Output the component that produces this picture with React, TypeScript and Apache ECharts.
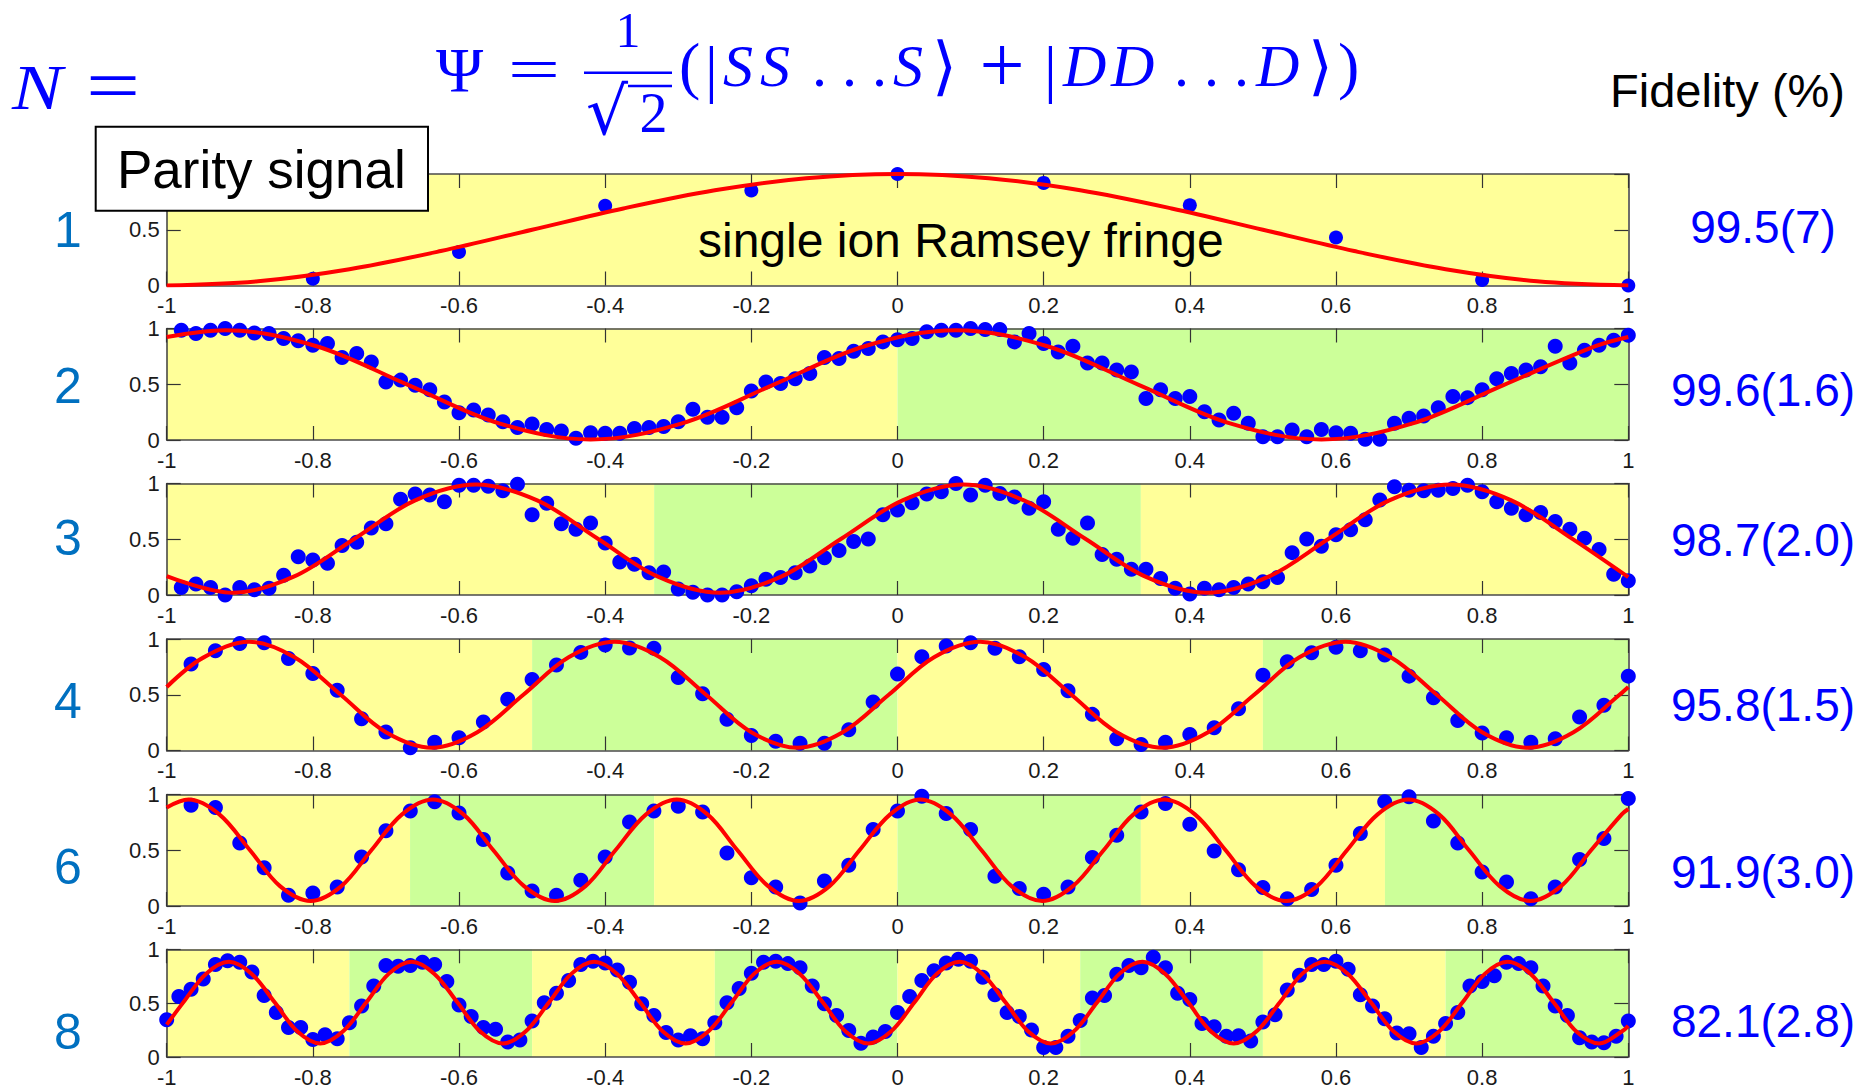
import React, { useEffect, useRef } from 'react';
import * as echarts from 'echarts';

// ---------- data ----------
const X_TICKS = ['-1', '-0.8', '-0.6', '-0.4', '-0.2', '0', '0.2', '0.4', '0.6', '0.8', '1'];
const Y_TICKS = ['0', '0.5', '1'];

const N_LABELS = ['1', '2', '3', '4', '6', '8'];
const FIDELITY = ['99.5(7)', '99.6(1.6)', '98.7(2.0)', '95.8(1.5)', '91.9(3.0)', '82.1(2.8)'];

// band edges (alternating yellow / green, starting yellow)
const EDGES_1 = [-1, 1];
const EDGES_2 = [-1, 0, 1];
const EDGES_3 = [-1, -0.333, 0.333, 1];
const EDGES_4 = [-1, -0.5, 0, 0.5, 1];
const EDGES_6 = [-1, -0.667, -0.333, 0, 0.333, 0.667, 1];
const EDGES_8 = [-1, -0.75, -0.5, -0.25, 0, 0.25, 0.5, 0.75, 1];

// measured points (blue dots)
const DOTS_1_X = [-0.8, -0.6, -0.4, -0.2, 0, 0.2, 0.4, 0.6, 0.8, 1.0];
const DOTS_1_Y = [0.06, 0.30, 0.715, 0.853, 1.0, 0.92, 0.72, 0.43, 0.05, 0.0];

const DOTS_2_Y = [
  0.985, 0.955, 0.985, 1.0, 0.985, 0.96, 0.955, 0.91, 0.89, 0.85,
  0.865, 0.74, 0.776, 0.70, 0.52, 0.537, 0.49, 0.45, 0.34, 0.245,
  0.27, 0.224, 0.164, 0.113, 0.143, 0.095, 0.08, 0.015, 0.065, 0.06,
  0.06, 0.104, 0.113, 0.12, 0.164, 0.275, 0.203, 0.203, 0.29, 0.44,
  0.52, 0.507, 0.55, 0.597, 0.74, 0.73, 0.797, 0.82, 0.88, 0.90,
  0.91, 0.97,
  0.985, 0.985, 1.0, 0.99, 0.99, 0.88, 0.955, 0.865, 0.79, 0.84,
  0.69, 0.69, 0.627, 0.61, 0.373, 0.45, 0.373, 0.39, 0.254, 0.18,
  0.24, 0.15, 0.03, 0.03, 0.09, 0.03, 0.095, 0.066, 0.06, 0.006,
  0.006, 0.15, 0.194, 0.215, 0.29, 0.39, 0.38, 0.45, 0.55, 0.597,
  0.627, 0.657, 0.84, 0.69, 0.806, 0.85, 0.895, 0.94,
];

const DOTS_3_Y = [
  0.068, 0.098, 0.068, 0.0, 0.068, 0.047, 0.06, 0.178, 0.343, 0.314,
  0.284, 0.444, 0.473, 0.60, 0.64, 0.858, 0.905, 0.896, 0.837, 0.985,
  0.985, 0.976, 0.935, 0.994, 0.72, 0.822, 0.64, 0.59, 0.645, 0.467,
  0.296, 0.275, 0.20, 0.207, 0.053, 0.024, 0.0, 0.0, 0.03, 0.083,
  0.142, 0.157, 0.20, 0.26, 0.334, 0.40, 0.48, 0.503, 0.72, 0.763,
  0.828, 0.905,
  0.926, 1.0, 0.896, 0.985, 0.911, 0.88, 0.778, 0.837, 0.59, 0.51,
  0.645, 0.364, 0.32, 0.23, 0.23, 0.148, 0.06, 0.01, 0.06, 0.047,
  0.068, 0.098, 0.118, 0.157, 0.38, 0.503, 0.438, 0.54, 0.586, 0.675,
  0.852, 0.97, 0.94, 0.935, 0.94, 0.956, 0.985, 0.926, 0.837, 0.778,
  0.72, 0.74, 0.66, 0.59, 0.51, 0.408, 0.186, 0.127,
];

const DOTS_4_Y = [
  0.775, 0.895, 0.96, 0.967, 0.826, 0.69, 0.54, 0.285, 0.165, 0.024,
  0.075, 0.114, 0.255, 0.46, 0.637, 0.766, 0.88, 0.946, 0.92, 0.916,
  0.655, 0.51, 0.28, 0.135, 0.084, 0.066, 0.066, 0.186, 0.435, 0.685,
  0.84,
  0.937, 0.967, 0.916, 0.84, 0.727, 0.535, 0.324, 0.105, 0.054, 0.075,
  0.144, 0.204, 0.375, 0.676, 0.796, 0.877, 0.925, 0.895, 0.856, 0.667,
  0.474, 0.27, 0.156, 0.114, 0.075, 0.105, 0.30, 0.405, 0.667,
];

const DOTS_6_Y = [
  0.904, 0.883, 0.566, 0.344, 0.096, 0.117, 0.17, 0.44, 0.674, 0.853,
  0.934, 0.835, 0.596, 0.296, 0.135, 0.096, 0.23, 0.44, 0.754, 0.853,
  0.895, 0.844, 0.476, 0.254, 0.17, 0.027, 0.225, 0.365, 0.686, 0.853,
  0.985,
  0.83, 0.686, 0.266, 0.156, 0.105, 0.17, 0.434, 0.635, 0.844, 0.92,
  0.734, 0.494, 0.326, 0.165, 0.066, 0.147, 0.365, 0.65, 0.934, 0.98,
  0.763, 0.566, 0.305, 0.216, 0.066, 0.17, 0.416, 0.605, 0.964,
];

const DOTS_8_Y = [
  0.346, 0.562, 0.63, 0.725, 0.858, 0.893, 0.879, 0.79, 0.571, 0.414,
  0.275, 0.275, 0.163, 0.207, 0.169, 0.317, 0.473, 0.66, 0.849, 0.843,
  0.849, 0.879, 0.858, 0.70, 0.482, 0.376, 0.275, 0.257, 0.139, 0.157,
  0.334, 0.503, 0.592, 0.71, 0.858, 0.888, 0.873, 0.808, 0.695, 0.494,
  0.385, 0.228, 0.157, 0.198, 0.169, 0.317, 0.503, 0.636, 0.778, 0.879,
  0.888, 0.867, 0.828, 0.66, 0.494, 0.385, 0.246, 0.127, 0.186, 0.237,
  0.414, 0.562, 0.71, 0.80, 0.873, 0.908, 0.888, 0.74, 0.577, 0.414,
  0.376, 0.251, 0.089, 0.089, 0.192, 0.34, 0.547, 0.571, 0.769, 0.849,
  0.828, 0.926, 0.828, 0.592, 0.533, 0.311, 0.281, 0.192, 0.198, 0.148,
  0.325, 0.393, 0.621, 0.76, 0.858, 0.858, 0.888, 0.814, 0.577, 0.473,
  0.355, 0.222, 0.216, 0.089, 0.192, 0.311, 0.414, 0.66, 0.70, 0.754,
  0.879, 0.867, 0.828, 0.66, 0.473, 0.385, 0.178, 0.139, 0.133, 0.192,
  0.334,
];

// fitted curves (red)
const CURVE_1 = [[-1, 0], [-0.875, 0.038], [-0.75, 0.146], [-0.625, 0.309], [-0.5, 0.5], [-0.375, 0.691], [-0.25, 0.854], [-0.125, 0.962], [0, 1], [0.125, 0.962], [0.25, 0.854], [0.375, 0.691], [0.5, 0.5], [0.625, 0.309], [0.75, 0.146], [0.875, 0.038], [1, 0]];
const CURVE_2 = [[-1, 0.924], [-0.92, 0.985], [-0.795, 0.841], [-0.67, 0.495], [-0.545, 0.149], [-0.42, 0.005], [-0.295, 0.149], [-0.17, 0.495], [-0.045, 0.841], [0.08, 0.985], [0.205, 0.841], [0.33, 0.495], [0.455, 0.149], [0.58, 0.005], [0.705, 0.149], [0.83, 0.495], [0.955, 0.841], [1, 0.924]];
const CURVE_3 = [[-1, 0.17], [-0.91, 0.02], [-0.827, 0.162], [-0.743, 0.505], [-0.66, 0.848], [-0.577, 0.99], [-0.493, 0.848], [-0.41, 0.505], [-0.327, 0.162], [-0.243, 0.02], [-0.16, 0.162], [-0.077, 0.505], [0.007, 0.848], [0.09, 0.99], [0.173, 0.848], [0.257, 0.505], [0.34, 0.162], [0.423, 0.02], [0.507, 0.162], [0.59, 0.505], [0.673, 0.848], [0.757, 0.99], [0.84, 0.848], [0.923, 0.505], [1, 0.16]];
const CURVE_4 = [[-1, 0.57], [-0.95, 0.833], [-0.887, 0.975], [-0.825, 0.836], [-0.762, 0.5], [-0.7, 0.164], [-0.637, 0.025], [-0.575, 0.164], [-0.512, 0.5], [-0.45, 0.836], [-0.387, 0.975], [-0.325, 0.836], [-0.262, 0.5], [-0.2, 0.164], [-0.137, 0.025], [-0.075, 0.164], [-0.012, 0.5], [0.05, 0.836], [0.113, 0.975], [0.175, 0.836], [0.238, 0.5], [0.3, 0.164], [0.363, 0.025], [0.425, 0.164], [0.488, 0.5], [0.55, 0.836], [0.613, 0.975], [0.675, 0.836], [0.738, 0.5], [0.8, 0.164], [0.863, 0.025], [0.925, 0.164], [0.988, 0.5], [1, 0.57]];
const CURVE_6 = [[-1, 0.884], [-0.97, 0.955], [-0.928, 0.822], [-0.886, 0.5], [-0.845, 0.178], [-0.803, 0.045], [-0.761, 0.178], [-0.72, 0.5], [-0.678, 0.822], [-0.636, 0.955], [-0.594, 0.822], [-0.553, 0.5], [-0.511, 0.178], [-0.469, 0.045], [-0.427, 0.178], [-0.386, 0.5], [-0.344, 0.822], [-0.302, 0.955], [-0.26, 0.822], [-0.219, 0.5], [-0.177, 0.178], [-0.135, 0.045], [-0.093, 0.178], [-0.052, 0.5], [-0.01, 0.822], [0.031, 0.955], [0.073, 0.822], [0.115, 0.5], [0.156, 0.178], [0.198, 0.045], [0.24, 0.178], [0.282, 0.5], [0.323, 0.822], [0.365, 0.955], [0.407, 0.822], [0.449, 0.5], [0.49, 0.178], [0.532, 0.045], [0.574, 0.178], [0.615, 0.5], [0.657, 0.822], [0.699, 0.955], [0.741, 0.822], [0.782, 0.5], [0.824, 0.178], [0.866, 0.045], [0.908, 0.178], [0.949, 0.5], [0.991, 0.822], [1, 0.87]];
const CURVE_8 = [[-1, 0.30], [-0.9775, 0.505], [-0.946, 0.774], [-0.915, 0.885], [-0.884, 0.774], [-0.852, 0.505], [-0.821, 0.236], [-0.79, 0.125], [-0.759, 0.236], [-0.727, 0.505], [-0.696, 0.774], [-0.665, 0.885], [-0.634, 0.774], [-0.602, 0.505], [-0.571, 0.236], [-0.54, 0.125], [-0.509, 0.236], [-0.477, 0.505], [-0.446, 0.774], [-0.415, 0.885], [-0.384, 0.774], [-0.352, 0.505], [-0.321, 0.236], [-0.29, 0.125], [-0.259, 0.236], [-0.227, 0.505], [-0.196, 0.774], [-0.165, 0.885], [-0.134, 0.774], [-0.102, 0.505], [-0.071, 0.236], [-0.04, 0.125], [-0.009, 0.236], [0.023, 0.505], [0.054, 0.774], [0.085, 0.885], [0.116, 0.774], [0.148, 0.505], [0.179, 0.236], [0.21, 0.125], [0.241, 0.236], [0.273, 0.505], [0.304, 0.774], [0.335, 0.885], [0.366, 0.774], [0.398, 0.505], [0.429, 0.236], [0.46, 0.125], [0.491, 0.236], [0.523, 0.505], [0.554, 0.774], [0.585, 0.885], [0.616, 0.774], [0.648, 0.505], [0.679, 0.236], [0.71, 0.125], [0.741, 0.236], [0.773, 0.505], [0.804, 0.774], [0.835, 0.885], [0.866, 0.774], [0.898, 0.505], [0.929, 0.236], [0.96, 0.125], [0.991, 0.236], [1, 0.29]];

// ---------- layout / style ----------
const GRID_LEFT = 166.7;
const GRID_WIDTH = 1461.6;
const GRID_TOPS = [174, 328.5, 483.5, 639, 794.5, 949.3];
const GRID_H = 111.5;
const N_LABEL_Y = [230, 386, 537.5, 701, 867, 1032];
const FID_Y = [226.7, 390, 540, 705, 872, 1021];
const DOT_SIZES = [14, 15, 15, 15, 15, 15];

const YELLOW = '#FFFF99';
const GREEN = '#CCFF99';
const BLUE = '#0000ff';
const AXIS_COLOR = '#4a4a4a';
const SANS = '"Liberation Sans", Arial, Helvetica, sans-serif';
const SERIF = '"Liberation Serif", "DejaVu Serif", serif';

function gridDots(start: number, step: number, ys: number[]) {
  return ys.map((y, i) => [start + i * step, y]);
}

const PANELS = [
  { dots: DOTS_1_X.map((x, i) => [x, DOTS_1_Y[i]]), curve: CURVE_1, edges: EDGES_1 },
  { dots: gridDots(-0.98, 0.02, DOTS_2_Y), curve: CURVE_2, edges: EDGES_2 },
  { dots: gridDots(-0.98, 0.02, DOTS_3_Y), curve: CURVE_3, edges: EDGES_3 },
  { dots: gridDots(-29 / 30, 1 / 30, DOTS_4_Y), curve: CURVE_4, edges: EDGES_4 },
  { dots: gridDots(-29 / 30, 1 / 30, DOTS_6_Y), curve: CURVE_6, edges: EDGES_6 },
  { dots: gridDots(-1, 1 / 60, DOTS_8_Y), curve: CURVE_8, edges: EDGES_8 },
];

function txt(text: string, x: number, y: number, font: string, fill: string, align = 'left', extra: any = {}) {
  return {
    type: 'text',
    x,
    y,
    z: 20,
    ...extra,
    style: {
      text,
      font,
      fill,
      textAlign: align,
      align,
      textVerticalAlign: 'middle',
      verticalAlign: 'middle',
    },
  };
}

function buildOption() {
  const axisCommon = {
    type: 'value',
    z: 3,
    axisLine: { show: true, onZero: false, lineStyle: { color: AXIS_COLOR, width: 1.6 } },
    axisTick: { show: true, inside: true, length: 14, lineStyle: { color: '#333', width: 1.2 } },
    splitLine: { show: false },
  };
  const xAxis: any[] = [];
  const yAxis: any[] = [];
  PANELS.forEach((_, i) => {
    xAxis.push({
      ...axisCommon,
      gridIndex: i,
      position: 'bottom',
      min: -1,
      max: 1,
      interval: 0.2,
      axisLabel: {
        show: true,
        margin: 9,
        fontSize: 22,
        fontFamily: SANS,
        color: '#1a1a1a',
        formatter: (v: number) => X_TICKS[Math.round((v + 1) / 0.2)] ?? String(v),
      },
    });
    xAxis.push({
      ...axisCommon,
      gridIndex: i,
      position: 'top',
      min: -1,
      max: 1,
      interval: 0.2,
      axisLabel: { show: false },
    });
    yAxis.push({
      ...axisCommon,
      gridIndex: i,
      position: 'left',
      min: 0,
      max: 1,
      interval: 0.5,
      axisLabel: {
        show: true,
        margin: 7,
        fontSize: 22,
        fontFamily: SANS,
        color: '#1a1a1a',
        // the top label of the first panel is hidden behind the "Parity signal" box
        showMaxLabel: i !== 0,
        formatter: (v: number) => Y_TICKS[Math.round(v / 0.5)] ?? String(v),
      },
    });
    yAxis.push({
      ...axisCommon,
      gridIndex: i,
      position: 'right',
      min: 0,
      max: 1,
      interval: 0.5,
      axisLabel: { show: false },
    });
  });

  const series: any[] = [];
  PANELS.forEach((p, i) => {
    const bands: any[] = [];
    for (let k = 0; k < p.edges.length - 1; k++) {
      bands.push([
        { xAxis: p.edges[k], itemStyle: { color: k % 2 === 0 ? YELLOW : GREEN, opacity: 1 } },
        { xAxis: p.edges[k + 1] },
      ]);
    }
    series.push({
      type: 'scatter',
      xAxisIndex: 2 * i,
      yAxisIndex: 2 * i,
      data: p.dots,
      symbol: 'circle',
      symbolSize: DOT_SIZES[i],
      itemStyle: { color: BLUE, opacity: 1 },
      clip: false,
      silent: true,
      z: 4,
      markArea: { silent: true, z: 1, data: bands, label: { show: false } },
    });
    series.push({
      type: 'line',
      xAxisIndex: 2 * i,
      yAxisIndex: 2 * i,
      data: p.curve,
      smooth: 0.35,
      symbol: 'none',
      showSymbol: false,
      silent: true,
      lineStyle: { color: '#ff0000', width: 4 },
      z: 5,
    });
  });

  const graphics: any[] = [];
  // "N ="
  graphics.push(txt('N', 12, 87.5, `italic 63px ${SERIF}`, BLUE, 'left', { scaleX: 1.2 }));
  graphics.push(txt('=', 113, 85, `75px ${SERIF}`, BLUE, 'center', { scaleX: 1.28 }));
  // formula
  graphics.push(txt('Ψ', 436, 70, `64px ${SERIF}`, BLUE, 'left'));
  graphics.push(txt('=', 534, 68.75, `62px ${SERIF}`, BLUE, 'center', { scaleX: 1.5 }));
  graphics.push(txt('1', 628, 30, `50px ${SERIF}`, BLUE, 'center'));
  graphics.push({ type: 'line', z: 20, shape: { x1: 584, y1: 72.7, x2: 672, y2: 72.7 }, style: { stroke: BLUE, lineWidth: 2.5 } });
  graphics.push(txt('√', 586, 111.9, `66px "DejaVu Serif", serif`, BLUE, 'left'));
  graphics.push({ type: 'line', z: 20, shape: { x1: 628, y1: 86, x2: 672, y2: 86 }, style: { stroke: BLUE, lineWidth: 2.5 } });
  graphics.push(txt('2', 653.5, 113.3, `56px ${SERIF}`, BLUE, 'center'));
  graphics.push(txt('(', 679, 65, `64px ${SERIF}`, BLUE, 'left'));
  graphics.push(txt('|', 705, 68, `64px ${SERIF}`, BLUE, 'left'));
  graphics.push(txt('S', 723, 66, `italic 60px ${SERIF}`, BLUE, 'left'));
  graphics.push(txt('S', 760, 66, `italic 60px ${SERIF}`, BLUE, 'left'));
  graphics.push(txt('. . .', 812, 66, `60px ${SERIF}`, BLUE, 'left'));
  graphics.push(txt('S', 893, 66, `italic 60px ${SERIF}`, BLUE, 'left'));
  graphics.push(txt('⟩', 932, 66, `64px "DejaVu Serif", serif`, BLUE, 'left'));
  graphics.push(txt('+', 1002, 64.9, `80px ${SERIF}`, BLUE, 'center'));
  graphics.push(txt('|', 1044, 68, `64px ${SERIF}`, BLUE, 'left'));
  graphics.push(txt('D', 1063, 66, `italic 60px ${SERIF}`, BLUE, 'left'));
  graphics.push(txt('D', 1111, 66, `italic 60px ${SERIF}`, BLUE, 'left'));
  graphics.push(txt('. . .', 1174, 66, `60px ${SERIF}`, BLUE, 'left'));
  graphics.push(txt('D', 1256, 66, `italic 60px ${SERIF}`, BLUE, 'left'));
  graphics.push(txt('⟩', 1308, 66, `64px "DejaVu Serif", serif`, BLUE, 'left'));
  graphics.push(txt(')', 1338, 65, `64px ${SERIF}`, BLUE, 'left'));

  graphics.push(txt('Fidelity (%)', 1610, 90.8, `47px ${SANS}`, '#000', 'left'));

  // Parity signal box
  graphics.push({
    type: 'rect',
    z: 20,
    shape: { x: 95.7, y: 126.7, width: 332.3, height: 84 },
    style: { fill: '#fff', stroke: '#000', lineWidth: 2 },
  });
  graphics.push(txt('Parity signal', 117, 169.7, `53px ${SANS}`, '#000', 'left', { z: 21 }));
  graphics.push(txt('single ion Ramsey fringe', 698, 240.8, `48px ${SANS}`, '#000', 'left'));

  N_LABELS.forEach((n, i) => {
    graphics.push(txt(n, 68, N_LABEL_Y[i], `50px ${SANS}`, '#0070c0', 'center'));
  });
  FIDELITY.forEach((f, i) => {
    graphics.push(txt(f, 1763, FID_Y[i], `46px ${SANS}`, BLUE, 'center'));
  });

  return {
    animation: false,
    backgroundColor: '#ffffff',
    grid: PANELS.map((_, i) => ({
      left: GRID_LEFT,
      width: GRID_WIDTH,
      top: GRID_TOPS[i],
      height: GRID_H,
      containLabel: false,
    })),
    xAxis,
    yAxis,
    series,
    graphic: { elements: graphics },
  };
}

export default function App() {
  const ref = useRef<HTMLDivElement>(null);
  useEffect(() => {
    if (!ref.current) return;
    const chart = echarts.init(ref.current, undefined, { renderer: 'svg' });
    chart.setOption(buildOption() as any);
    return () => chart.dispose();
  }, []);
  return (
    <div
      ref={ref}
      style={{ position: 'absolute', left: 0, top: 0, width: 1866, height: 1088, background: '#fff' }}
    />
  );
}
